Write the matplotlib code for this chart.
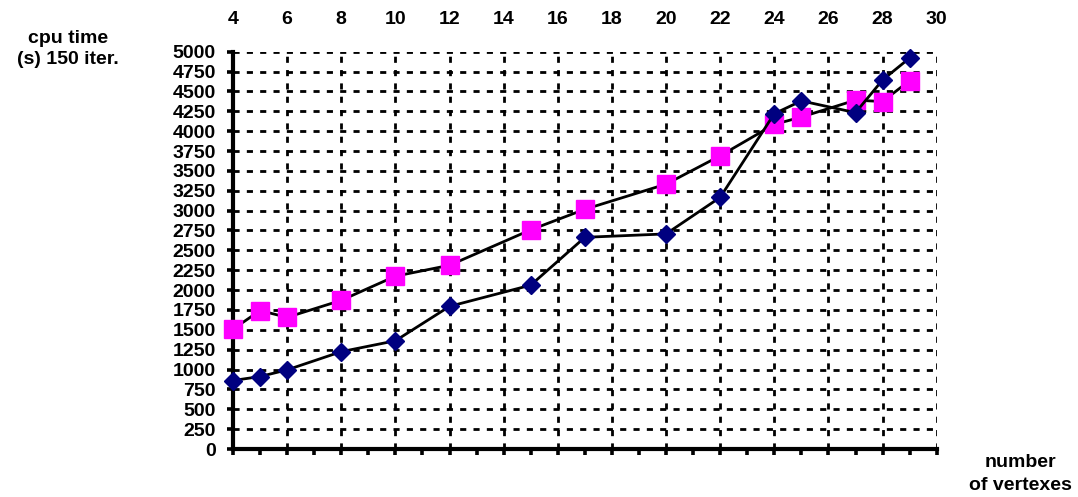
import matplotlib
matplotlib.use('Agg')
import matplotlib.pyplot as plt
from matplotlib.ticker import MultipleLocator

plt.rcParams['font.family'] = ['Liberation Sans', 'DejaVu Sans']
plt.rcParams['font.weight'] = 'bold'

# number of vertexes
vertexes = [4, 5, 6, 8, 10, 12, 15, 17, 20, 22, 24, 25, 27, 28, 29]
# cpu time (s), 150 iterations
cpu_diamond = [862, 912, 996, 1225, 1362, 1795, 2062, 2664, 2707, 3167, 4220, 4381, 4233, 4644, 4921]
cpu_square = [1508, 1742, 1657, 1871, 2175, 2312, 2758, 3017, 3333, 3690, 4085, 4178, 4390, 4373, 4636]

x_ticks = list(range(4, 31, 2))
y_ticks = list(range(0, 5001, 250))

fig = plt.figure(figsize=(10.78, 4.97), dpi=100)
ax = fig.add_axes([233 / 1078, 1 - 449 / 497, (936.7 - 233) / 1078, (449 - 51.7) / 497])

ax.plot(vertexes, cpu_square, color='black', lw=2, marker='s', ms=12.5,
        mfc='#FF00FF', mec='#FF00FF', clip_on=False, zorder=3)
ax.plot(vertexes, cpu_diamond, color='black', lw=2, marker='D', ms=9,
        mfc='#000080', mec='#000080', clip_on=False, zorder=4)

ax.set_xlim(4, 30)
ax.set_ylim(0, 5000)
ax.set_xticks(x_ticks)
ax.xaxis.set_minor_locator(MultipleLocator(1))
ax.set_yticks(y_ticks)

ax.grid(True, which='major', color='black', lw=2, linestyle=(0, (2.2, 2.6)))
ax.set_axisbelow(True)

for s in ['top', 'right']:
    ax.spines[s].set_visible(False)
for s in ['left', 'bottom']:
    ax.spines[s].set_linewidth(3)

ax.tick_params(axis='x', which='both', bottom=True, top=False, labelbottom=False,
               labeltop=True, direction='out', length=4.5, width=2.6, pad=12.5, labelsize=14)
ax.tick_params(axis='y', direction='out', length=4.5, width=2.6, pad=8, labelsize=14)
for lab in ax.get_xticklabels() + ax.get_yticklabels():
    lab.set_fontweight('bold')

fig.text(68 / 1078, 1 - 49 / 497, 'cpu time\n(s) 150 iter.', ha='center', va='center',
         fontsize=14, fontweight='bold', linespacing=1.3)
fig.text(1020 / 1078, 1 - 474 / 497, 'number\nof vertexes', ha='center', va='center',
         fontsize=14, fontweight='bold', linespacing=1.5)

fig.savefig('out.png', dpi=100, facecolor='white')
